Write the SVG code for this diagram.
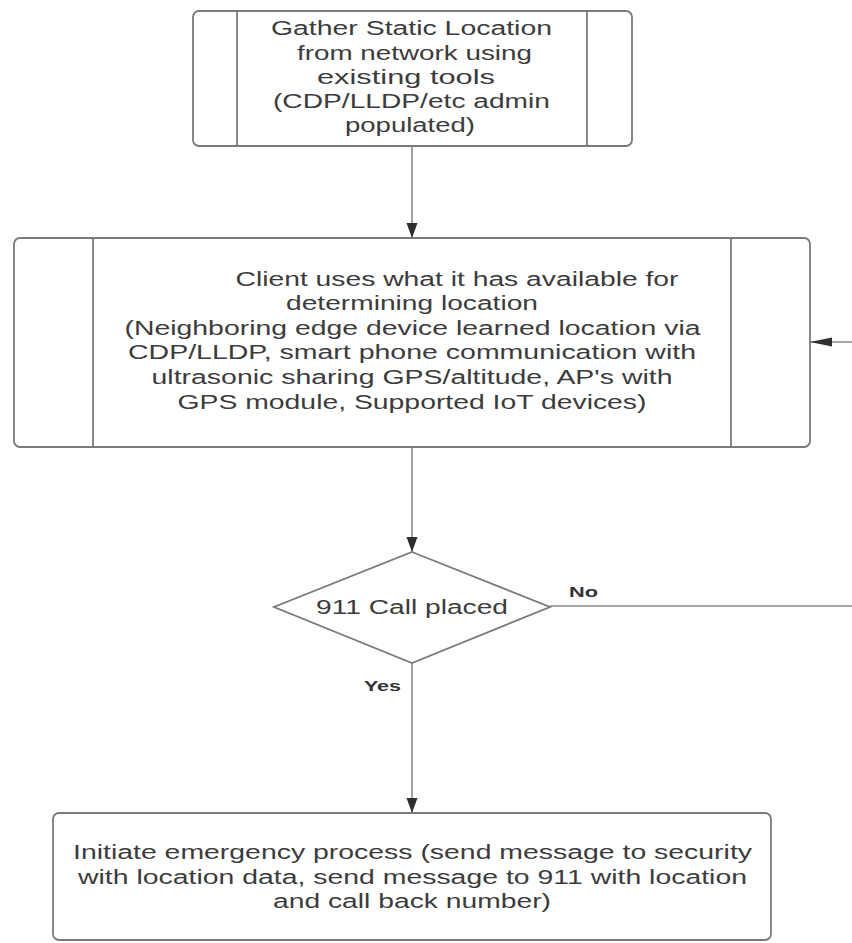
<svg xmlns="http://www.w3.org/2000/svg" width="852" height="943" viewBox="0 0 852 943">
<defs>
<style>
.box{fill:#fff;stroke:#7a7a7a;stroke-width:1.8}
.div{stroke:#7a7a7a;stroke-width:1.8;fill:none}
.t{font-family:"Liberation Sans",Arial,sans-serif;font-size:21px;fill:#3c3c3c;text-anchor:middle}
.lbl{font-family:"Liberation Sans",Arial,sans-serif;font-size:15px;font-weight:bold;fill:#333;text-anchor:middle}
.edge{fill:none;stroke:#8a8a8a;stroke-width:1.6}
</style>
<marker id="arrV" markerUnits="userSpaceOnUse" markerWidth="16" markerHeight="12" refX="15" refY="5.5" orient="auto">
<path d="M0,0 L15,5.5 L0,11 z" fill="#2f2f2f"/>
</marker>
<marker id="arrH" markerUnits="userSpaceOnUse" markerWidth="23" markerHeight="10" refX="22" refY="4.5" orient="auto">
<path d="M0,0 L22,4.5 L0,9 z" fill="#2f2f2f"/>
</marker>
</defs>
<rect width="852" height="943" fill="#fff"/>

<g id="connectors">
<path class="edge" d="M412,146 L412,238" marker-end="url(#arrV)"/>
<path class="edge" d="M412,447 L412,552" marker-end="url(#arrV)"/>
<path class="edge" d="M550,606 L864,606 L864,342 L810,342" marker-end="url(#arrH)"/>
<path class="edge" d="M412,663 L412,813" marker-end="url(#arrV)"/>
<g transform="scale(1.35,1)">
<text class="lbl" x="432.22" y="597" textLength="21.48" lengthAdjust="spacingAndGlyphs">No</text>
<text class="lbl" x="283.33" y="691" textLength="27.41" lengthAdjust="spacingAndGlyphs">Yes</text>
</g>
</g>

<g id="gather">
<rect class="box" x="193" y="11" width="439" height="135" rx="6"/>
<line class="div" x1="237" y1="11" x2="237" y2="146"/>
<line class="div" x1="587" y1="11" x2="587" y2="146"/>
<g transform="scale(1.35,1)">
<text class="t" x="304.81" y="35" textLength="208.15" lengthAdjust="spacingAndGlyphs">Gather Static Location</text>
<text class="t" x="307.04" y="60" textLength="174.07" lengthAdjust="spacingAndGlyphs">from network using</text>
<text class="t" x="300.74" y="84" textLength="131.85" lengthAdjust="spacingAndGlyphs">existing tools</text>
<text class="t" x="304.81" y="108" textLength="205.19" lengthAdjust="spacingAndGlyphs">(CDP/LLDP/etc admin</text>
<text class="t" x="303.70" y="132" textLength="96.30" lengthAdjust="spacingAndGlyphs">populated)</text>
</g>
</g>

<g id="client">
<rect class="box" x="14" y="238" width="796" height="209" rx="6"/>
<line class="div" x1="93" y1="238" x2="93" y2="447"/>
<line class="div" x1="731" y1="238" x2="731" y2="447"/>
<g transform="scale(1.35,1)">
<text class="t" x="338.52" y="286" textLength="328.15" lengthAdjust="spacingAndGlyphs">Client uses what it has available for</text>
<text class="t" x="305.19" y="310" textLength="186.67" lengthAdjust="spacingAndGlyphs">determining location</text>
<text class="t" x="305.56" y="335" textLength="426.67" lengthAdjust="spacingAndGlyphs">(Neighboring edge device learned location via</text>
<text class="t" x="305.19" y="359" textLength="420.74" lengthAdjust="spacingAndGlyphs">CDP/LLDP, smart phone communication with</text>
<text class="t" x="305.19" y="384" textLength="385.93" lengthAdjust="spacingAndGlyphs">ultrasonic sharing GPS/altitude, AP's with</text>
<text class="t" x="305.19" y="409" textLength="347.41" lengthAdjust="spacingAndGlyphs">GPS module, Supported IoT devices)</text>
</g>
</g>

<g id="decision">
<polygon class="box" points="412,552 550,607 412,663 274,607"/>
<g transform="scale(1.35,1)">
<text class="t" x="305.19" y="614" textLength="142.22" lengthAdjust="spacingAndGlyphs">911 Call placed</text>
</g>
</g>

<g id="emergency">
<rect class="box" x="53" y="813" width="718" height="127" rx="6"/>
<g transform="scale(1.35,1)">
<text class="t" x="305.56" y="859" textLength="502.96" lengthAdjust="spacingAndGlyphs">Initiate emergency process (send message to security</text>
<text class="t" x="305.56" y="884" textLength="495.56" lengthAdjust="spacingAndGlyphs">with location data, send message to 911 with location</text>
<text class="t" x="305.19" y="908" textLength="205.93" lengthAdjust="spacingAndGlyphs">and call back number)</text>
</g>
</g>
</svg>
